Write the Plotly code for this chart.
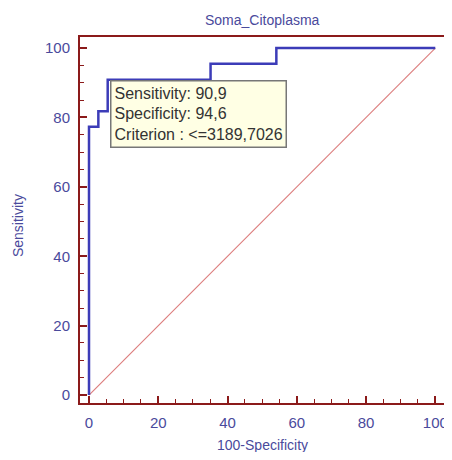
import plotly.graph_objects as go

# ROC curve points (100-Specificity, Sensitivity)
roc_x = [0, 0, 2.7, 2.7, 5.4, 5.4, 35.1, 35.1, 54.1, 54.1, 100]
roc_y = [0, 77.3, 77.3, 81.8, 81.8, 90.9, 90.9, 95.5, 95.5, 100, 100]
diag_x = [0, 100]
diag_y = [0, 100]
title_text = "Soma_Citoplasma"
x_title = "100-Specificity"
y_title = "Sensitivity"
box_lines = ["Sensitivity: 90,9", "Specificity: 94,6", "Criterion : <=3189,7026"]
tick_vals = [0, 20, 40, 60, 80, 100]

label_color = "#4a4a9c"
frame_color = "#8b1a1a"
font_family = "Liberation Sans, Arial"

fig = go.Figure()
fig.add_trace(go.Scatter(x=diag_x, y=diag_y, mode="lines",
                         line=dict(color="#dc7c7c", width=1.1), hoverinfo="skip"))
fig.add_trace(go.Scatter(x=roc_x, y=roc_y, mode="lines",
                         line=dict(color="#3c3cb8", width=2.5)))

fig.add_annotation(x=6.0, y=90.8, xref="x", yref="y", xanchor="left", yanchor="top",
                   text="<br>".join(box_lines), showarrow=False, align="left",
                   font=dict(family=font_family, size=16, color="#333333"),
                   bgcolor="#ffffe4", bordercolor="#777777", borderwidth=1.5, borderpad=3)

fig.add_annotation(x=0.499, y=1.046, xref="paper", yref="paper", text=title_text,
                   showarrow=False, xanchor="center", yanchor="middle",
                   font=dict(family=font_family, size=14, color=label_color))
fig.add_annotation(x=0.499, y=-0.115, xref="paper", yref="paper", text=x_title,
                   showarrow=False, xanchor="center", yanchor="middle",
                   font=dict(family=font_family, size=14, color=label_color))
fig.add_annotation(x=-0.170, y=0.486, xref="paper", yref="paper", text=y_title,
                   showarrow=False, xanchor="center", yanchor="middle", textangle=-90,
                   font=dict(family=font_family, size=14, color=label_color))

axis_common = dict(
    showgrid=False, zeroline=False, showline=True, linecolor=frame_color, linewidth=2,
    mirror=True, ticks="inside", ticklen=7, tickwidth=1.5, tickcolor=frame_color,
    tickvals=tick_vals, automargin=False, ticklabelstandoff=5,
    tickfont=dict(family=font_family, size=15, color=label_color),
    minor=dict(dtick=5, ticks="inside", ticklen=4, tickcolor=frame_color, tickwidth=1.2),
)

# The page body adds an 8px margin, so the figure is positioned to compensate.
fig.update_layout(
    width=444, height=444,
    margin=dict(l=72, r=7, t=29, b=49, autoexpand=False),
    paper_bgcolor="white", plot_bgcolor="white",
    showlegend=False,
    xaxis=dict(range=[-2.6, 102.8], **axis_common),
    yaxis=dict(range=[-2.3, 103.2], **axis_common),
)

fig.write_html("out.html")
